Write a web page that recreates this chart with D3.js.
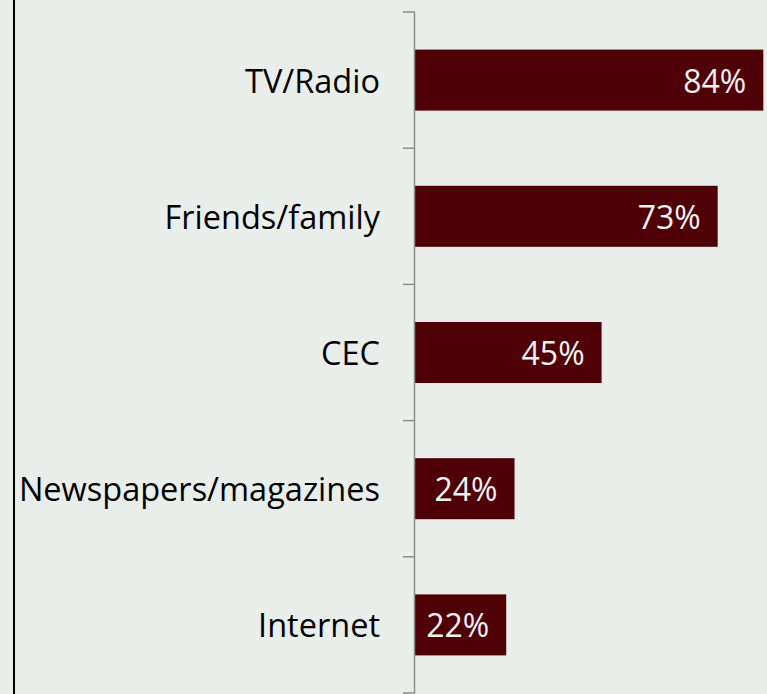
<!DOCTYPE html>
<html>
<head>
<meta charset="utf-8">
<script src="https://cdn.jsdelivr.net/npm/d3@7"></script>
<style>
  html, body { margin: 0; padding: 0; background: #eaeeea; }
  svg { display: block; }
</style>
</head>
<body>
<svg id="chart" width="767" height="694"></svg>
<script>
// Sources of information, share of respondents (%)
const categories = ["TV/Radio", "Friends/family", "CEC", "Newspapers/magazines", "Internet"];
const values = [84, 73, 45, 24, 22];
const valueLabels = ["84%", "73%", "45%", "24%", "22%"];

const W = 767, H = 694;
const svg = d3.select("#chart");

svg.append("rect").attr("width", W).attr("height", H).attr("fill", "#eaeeea");

// left frame edge
svg.append("line")
  .attr("x1", 14).attr("x2", 14).attr("y1", 0).attr("y2", H)
  .attr("stroke", "#000").attr("stroke-width", 2);

const x0 = 415;
const x = d3.scaleLinear().domain([0, 84]).range([x0, 763.3]);

const pad = 0.552;
const y = d3.scaleBand()
  .domain(categories)
  .range([12, 693])
  .paddingInner(pad)
  .paddingOuter(pad / 2);

const step = y.step();
const [r0] = y.range();

// bars
svg.append("g").selectAll("rect")
  .data(categories)
  .join("rect")
  .attr("x", x(0))
  .attr("y", d => y(d))
  .attr("width", (d, i) => x(values[i]) - x(0))
  .attr("height", y.bandwidth())
  .attr("fill", "#4f0006");

// category axis: vertical line with ticks at band boundaries
const axisG = svg.append("g");
axisG.append("line")
  .attr("x1", x0 - 0.5).attr("x2", x0 - 0.5)
  .attr("y1", r0).attr("y2", 693)
  .attr("stroke", "#8c8c8c").attr("stroke-width", 1.5);
axisG.selectAll("line.tick")
  .data(d3.range(categories.length + 1))
  .join("line")
  .attr("class", "tick")
  .attr("x1", x0 - 12).attr("x2", x0)
  .attr("y1", i => r0 + i * step)
  .attr("y2", i => r0 + i * step)
  .attr("stroke", "#8c8c8c").attr("stroke-width", 1.5);

// category labels
svg.append("g").selectAll("text")
  .data(categories)
  .join("text")
  .attr("x", 380)
  .attr("y", d => y(d) + y.bandwidth() / 2)
  .attr("text-anchor", "end")
  .attr("dominant-baseline", "central")
  .attr("font-family", "'Open Sans', sans-serif")
  .attr("font-size", 32.5)
  .attr("fill", "#000")
  .text(d => d);

// value labels inside bar ends
svg.append("g").selectAll("text")
  .data(categories)
  .join("text")
  .attr("x", (d, i) => x(values[i]) - 17)
  .attr("y", d => y(d) + y.bandwidth() / 2)
  .attr("text-anchor", "end")
  .attr("dominant-baseline", "central")
  .attr("font-family", "'Open Sans', sans-serif")
  .attr("font-size", 32)
  .attr("fill", "#f2f2f2")
  .text((d, i) => valueLabels[i]);
</script>
</body>
</html>
